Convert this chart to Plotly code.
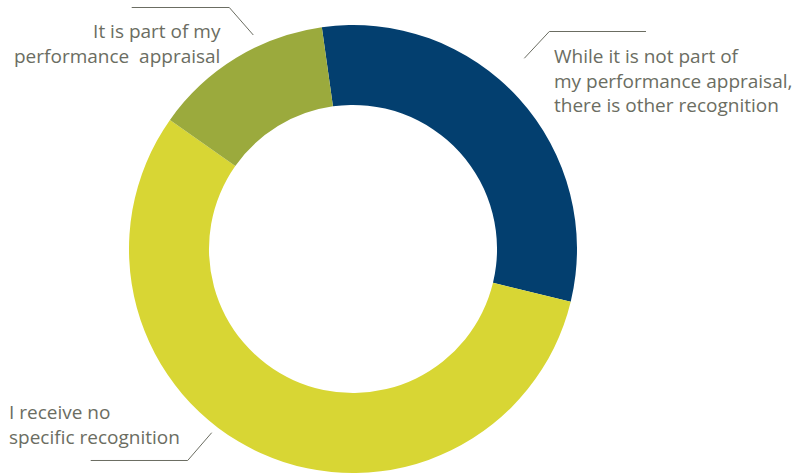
import plotly.graph_objects as go

# Survey answers and their shares (percent)
categories = [
    "While it is not part of my performance appraisal, there is other recognition",
    "I receive no specific recognition",
    "It is part of my performance appraisal",
]
shares = [31, 56, 13]
colors = ["#033F6F", "#D8D634", "#9BAA3D"]

W, H = 799, 473
TEXT_GRAY = "#6B6D62"


def px(x):
    return x / W


def py(y):
    return 1 - y / H


fig = go.Figure(
    go.Pie(
        labels=categories,
        values=shares,
        marker=dict(colors=colors, line=dict(width=0)),
        hole=0.643,
        sort=False,
        direction="clockwise",
        rotation=-8,
        textinfo="none",
        hoverinfo="label+percent",
        domain=dict(x=[0.16145, 0.72215], y=[0.0, 0.94715]),
        showlegend=False,
    )
)

# Callout labels: (text, x, y, anchor)
callouts = [
    ("It is part of my<br>performance  appraisal", 223, 44, "right"),
    ("While it is not part of<br>my performance appraisal,<br>there is other recognition", 552, 80, "left"),
    ("I receive no<br>specific recognition", 7, 424, "left"),
]
for text, x, y, anchor in callouts:
    fig.add_annotation(
        x=px(x), y=py(y), xref="paper", yref="paper",
        text=text, showarrow=False, xanchor=anchor, yanchor="middle",
        align=anchor, font=dict(family="Open Sans", size=19, color=TEXT_GRAY),
    )

# Leader lines (pixel polylines)
leaders = [
    [(131.7, 7.5), (229.3, 7.5), (253.3, 35)],
    [(524.3, 58.3), (549.3, 31.5), (646, 31.5)],
    [(90.7, 460.5), (187.7, 460.5), (211.7, 432.7)],
]
for pts in leaders:
    path = "M " + " L ".join(f"{px(x):.5f},{py(y):.5f}" for x, y in pts)
    fig.add_shape(type="path", path=path, xref="paper", yref="paper",
                  line=dict(color=TEXT_GRAY, width=1))

fig.update_layout(
    width=W, height=H,
    margin=dict(l=0, r=0, t=0, b=0),
    paper_bgcolor="white",
    plot_bgcolor="white",
)

fig.write_html("out.html")
